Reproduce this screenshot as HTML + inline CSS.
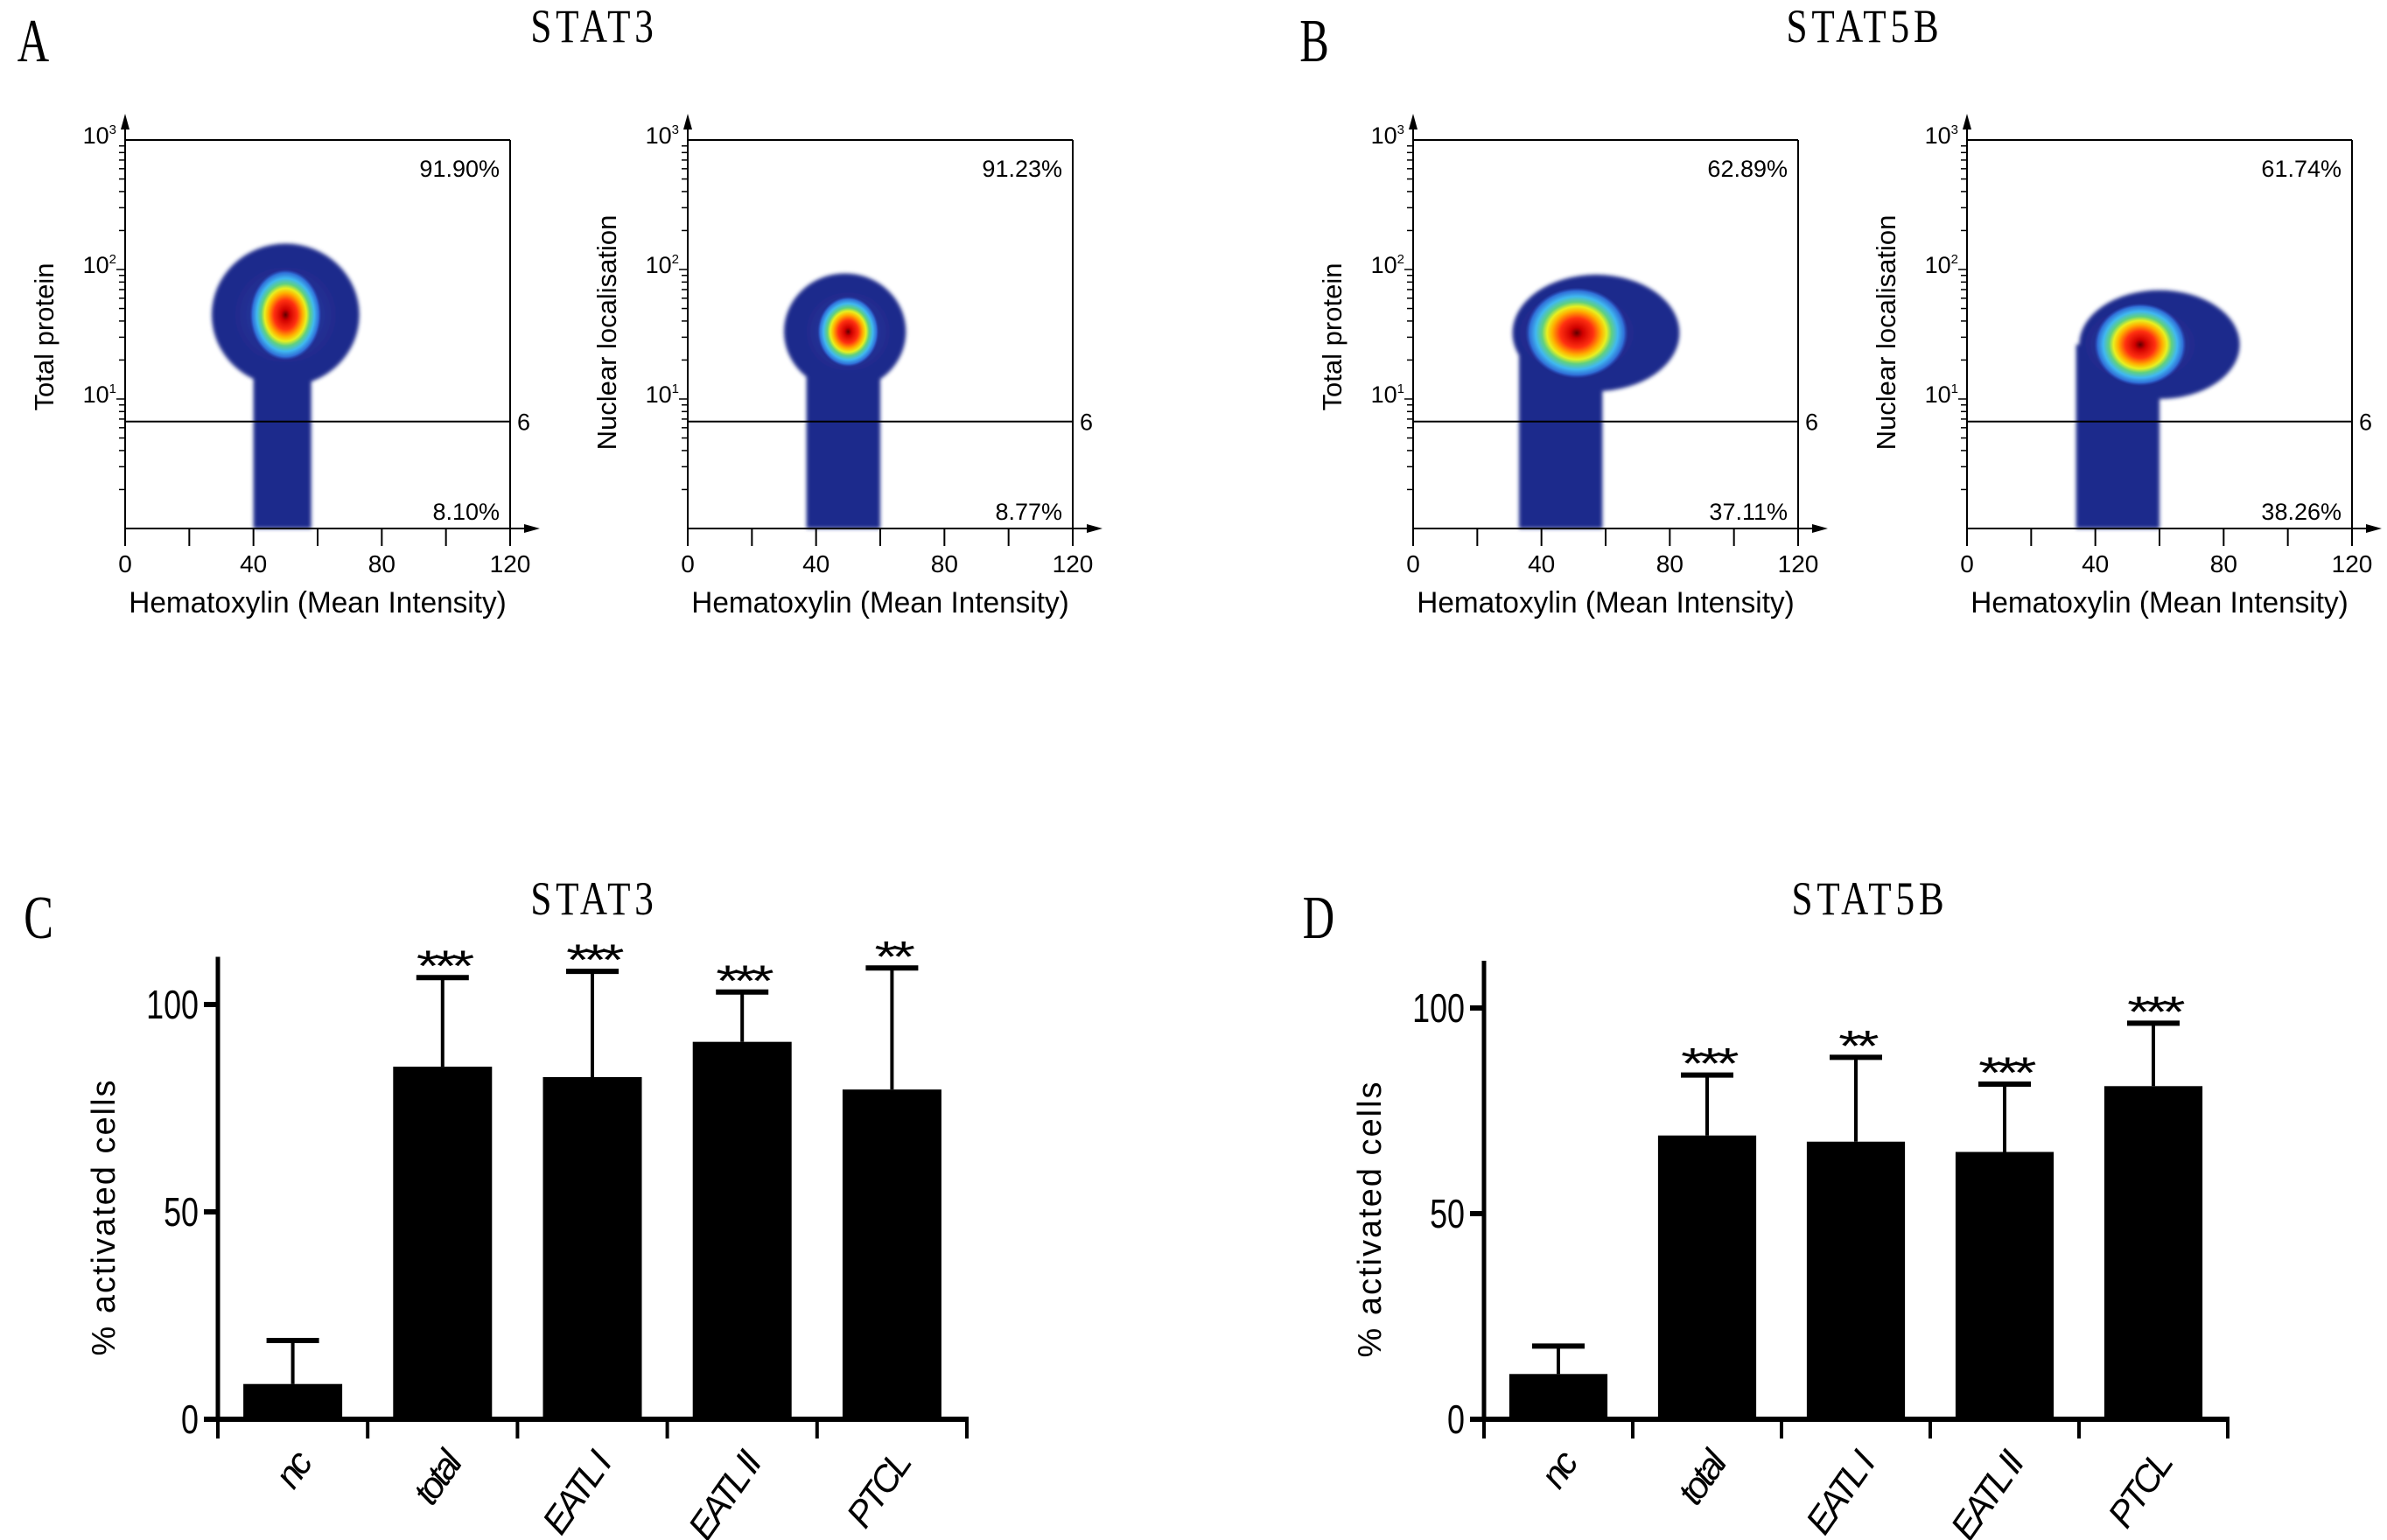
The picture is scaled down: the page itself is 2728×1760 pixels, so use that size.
<!DOCTYPE html>
<html><head><meta charset="utf-8"><style>
html,body{margin:0;padding:0;background:#fff;}
svg{display:block;}
text{font-family:"Liberation Sans",sans-serif;fill:#000;}
.ser{font-family:"Liberation Serif",serif;}
</style></head><body>
<svg id="fig" xmlns="http://www.w3.org/2000/svg" width="2728" height="1760" viewBox="0 0 2728 1760">
<defs>
<radialGradient id="heat" cx="50%" cy="50%" r="50%">
<stop offset="0" stop-color="#600000"/>
<stop offset="0.12" stop-color="#d00000"/>
<stop offset="0.32" stop-color="#ff3010"/>
<stop offset="0.48" stop-color="#ffb000"/>
<stop offset="0.58" stop-color="#e8f020"/>
<stop offset="0.68" stop-color="#60d080"/>
<stop offset="0.8" stop-color="#40b8f0"/>
<stop offset="0.92" stop-color="#3070d8"/>
<stop offset="1" stop-color="#2848b8" stop-opacity="0"/>
</radialGradient>
<radialGradient id="glow" cx="50%" cy="50%" r="50%">
<stop offset="0" stop-color="#3a5ad0"/>
<stop offset="1" stop-color="#1e2a8a" stop-opacity="0"/>
</radialGradient>
<filter id="soft"><feGaussianBlur stdDeviation="2"/></filter>
</defs>
</svg>
<script>
// ---------- scatter data ----------
const scatterTitles = ["Total protein","Nuclear localisation","Total protein","Nuclear localisation"];
const upperPct = ["91.90%","91.23%","62.89%","61.74%"];
const lowerPct = ["8.10%","8.77%","37.11%","38.26%"];
const xTicks = [0,40,80,120];
const threshold = 6.7;           // plotted gate position
const threshLabel = "6";
const coreX = [50,50,51,54];
const coreLog = [1.65,1.52,1.51,1.42];
const blobRX = [23,19,26,25];
const blobRY = [0.55,0.45,0.45,0.42];
const blobShiftX = [0,-1,6,6];
const stemL = [40,37,33,34];
const stemR = [58,60,59,60];
const heatRX = [7,6,10,9];
const heatRY = [0.22,0.17,0.22,0.2];
// ---------- bar data ----------
const categories = ["nc","total","EATL I","EATL II","PTCL"];
const stat3Means = [8.5,85,82.5,91,79.5];
const stat3Err = [19,106.5,108,103,108.8];
const stat3Stars = ["","***","***","***","**"];
const stat5Means = [11,69,67.5,65,81];
const stat5Err = [17.8,83.7,88,81.5,96.3];
const stat5Stars = ["","***","**","***","***"];
const yTicksBar = [0,50,100];

const svg = document.getElementById('fig');
const NS = "http://www.w3.org/2000/svg";
function mk(tag, attrs, parent, txt){
  const e = document.createElementNS(NS, tag);
  for (const k in attrs) e.setAttribute(k, attrs[k]);
  if (txt !== undefined) e.textContent = txt;
  (parent||svg).appendChild(e);
  return e;
}

const heads = [["A",38,70,"STAT3",679,48],["B",1502,70,"STAT5B",2131,48],["C",44,1072,"STAT3",679,1045],["D",1507,1072,"STAT5B",2137,1045]];
heads.forEach(h=>{
  let t = mk('text',{x:0,y:0,'font-size':70,'class':'ser','text-anchor':'middle',transform:`translate(${h[1]},${h[2]}) scale(0.72,1)`},svg,h[0]);
  
  
  let s = mk('text',{x:0,y:0,'font-size':54,'class':'ser','text-anchor':'middle','letter-spacing':6,transform:`translate(${h[4]},${h[5]}) scale(0.8,1)`},svg,h[3]);
  
  
});

// ---------- scatter plots ----------
const frames = [143,786,1615,2248];
const FW = 440, TOP = 160, BOT = 604, LOGMIN = 0, LOGMAX = 3;
function sx(i,v){ return frames[i] + v/120*FW; }
function sy(lg){ return BOT - (lg-LOGMIN)/(LOGMAX-LOGMIN)*(BOT-TOP); }

frames.forEach((fx,i)=>{
  const g = mk('g',{});
  
  
  const d = mk('g',{filter:'url(#soft)'},g);
  
  
  const cx = sx(i,coreX[i]+blobShiftX[i]), cy = sy(coreLog[i]);
  const rx = blobRX[i]/120*FW, ry = blobRY[i]/(LOGMAX-LOGMIN)*(BOT-TOP);
  mk('rect',{x:sx(i,stemL[i]),y:cy,width:sx(i,stemR[i])-sx(i,stemL[i]),height:BOT-cy,fill:'#1f2a8c'},d);
  mk('ellipse',{cx:cx,cy:cy,rx:rx,ry:ry,fill:'#1f2a8c'},d);
  mk('ellipse',{cx:sx(i,coreX[i]),cy:cy,rx:rx*0.8,ry:ry*0.8,fill:'url(#glow)'},d);
  const hc = mk('ellipse',{cx:sx(i,coreX[i]),cy:cy,rx:heatRX[i]/120*FW*1.6,ry:heatRY[i]/(LOGMAX-LOGMIN)*(BOT-TOP)*1.6,fill:'url(#heat)'},g);
  
  
  mk('line',{x1:fx,y1:TOP,x2:fx+FW,y2:TOP,stroke:'#000','stroke-width':2},g);
  mk('line',{x1:fx+FW,y1:TOP,x2:fx+FW,y2:BOT,stroke:'#000','stroke-width':2},g);
  mk('line',{x1:fx,y1:TOP-20,x2:fx,y2:BOT,stroke:'#000','stroke-width':2},g);
  mk('line',{x1:fx,y1:BOT,x2:fx+FW+20,y2:BOT,stroke:'#000','stroke-width':2},g);
  mk('polygon',{points:`${fx+FW+34},${BOT} ${fx+FW+16},${BOT-5} ${fx+FW+16},${BOT+5}`,fill:'#000'},g);
  mk('polygon',{points:`${fx},${TOP-30} ${fx-5},${TOP-12} ${fx+5},${TOP-12}`,fill:'#000'},g);
  const ty = sy(Math.log10(threshold));
  const tl = mk('line',{x1:fx,y1:ty,x2:fx+FW,y2:ty,stroke:'#000','stroke-width':2},g);
  
  
  mk('text',{x:fx+FW+8,y:ty+10,'font-size':27},g,threshLabel);
  for(let v=0; v<=120; v+=20){ mk('line',{x1:sx(i,v),y1:BOT,x2:sx(i,v),y2:BOT+20,stroke:'#000','stroke-width':2},g); }
  xTicks.forEach(v=>{ mk('text',{x:sx(i,v),y:654,'font-size':28,'text-anchor':'middle'},g,String(v)); });
  for(let dec=0; dec<3; dec++){
    for(let m=1; m<10; m++){
      const lg = dec+Math.log10(m);
      if (lg<0.15) continue;
      mk('line',{x1:fx-(m===1?10:7),y1:sy(lg),x2:fx,y2:sy(lg),stroke:'#000','stroke-width':1.5},g);
    }
  }
  [1,2,3].forEach(p=>{
    const t = mk('text',{x:fx-10,y:sy(p)+4,'font-size':27,'text-anchor':'end'},g,'10');
    mk('tspan',{'font-size':15,dy:-11},t,String(p));
  });
  mk('text',{x:fx+FW-12,y:202,'font-size':27,'text-anchor':'end'},g,upperPct[i]);
  mk('text',{x:fx+FW-12,y:594,'font-size':27,'text-anchor':'end'},g,lowerPct[i]);
  const xl = mk('text',{x:0,y:0,'font-size':34,'text-anchor':'middle',transform:`translate(${fx+220},${700}) scale(0.98,1)`},g,'Hematoxylin (Mean Intensity)');
  
  
  const ycx = fx-82, ycy = i%2===0 ? 385 : 380;
  const yl = mk('text',{x:0,y:0,'font-size':31,'text-anchor':'middle',transform:`translate(${ycx},${ycy}) rotate(-90)`},g,scatterTitles[i]);
  
  
});

// ---------- bar charts ----------
function barChart(ax, axEnd, zeroY, hundredY, means, errs, stars, tag){
  const g = mk('g',{});
  
  
  const yS = v => zeroY - v/100*(zeroY-hundredY);
  const band = (axEnd-ax)/categories.length;
  const bw = band*0.66;
  mk('line',{x1:ax,y1:yS(0),x2:ax,y2:zeroY-(zeroY-hundredY)*1.115,stroke:'#000','stroke-width':5},g);
  mk('line',{x1:ax-16,y1:zeroY,x2:axEnd+2,y2:zeroY,stroke:'#000','stroke-width':6},g);
  for(let k=0;k<=categories.length;k++){ mk('line',{x1:ax+k*band,y1:zeroY,x2:ax+k*band,y2:zeroY+22,stroke:'#000','stroke-width':4},g); }
  yTicksBar.forEach(v=>{
    mk('line',{x1:ax-16,y1:yS(v),x2:ax,y2:yS(v),stroke:'#000','stroke-width':6},g);
    mk('text',{x:0,y:0,'font-size':46,'text-anchor':'end',transform:`translate(${ax-22},${yS(v)+16}) scale(0.78,1)`},g,String(v));
  });
  const yl = mk('text',{x:0,y:0,'font-size':38,'text-anchor':'middle','letter-spacing':2,transform:`translate(${ax-118},${(zeroY+hundredY)/2+6}) rotate(-90)`},g,'% activated cells');
  
  
  categories.forEach((c,k)=>{
    const cx = ax + band*(k+0.5);
    const b = mk('rect',{x:cx-bw/2,y:yS(means[k]),width:bw,height:zeroY-yS(means[k]),fill:'#000'},g);
    
    
    const e = mk('line',{x1:cx,y1:yS(means[k]),x2:cx,y2:yS(errs[k]),stroke:'#000','stroke-width':4},g);
    
    
    mk('line',{x1:cx-30,y1:yS(errs[k]),x2:cx+30,y2:yS(errs[k]),stroke:'#000','stroke-width':6},g);
    if(stars[k]){
      const s = mk('text',{x:0,y:0,'font-size':62,'text-anchor':'middle','letter-spacing':-6,transform:`translate(${cx},${yS(errs[k])+4}) scale(1.1,0.8)`},g,stars[k]);
      
      
    }
    const lb = mk('text',{x:0,y:0,'font-size':42,'text-anchor':'end','font-style':'italic','letter-spacing':-4,transform:`translate(${cx+22},${zeroY+52}) rotate(-55)`},g,c);
    
    
  });
}
barChart(249,1105,1622,1148,stat3Means,stat3Err,stat3Stars,'stat3');
barChart(1696,2546,1622,1152,stat5Means,stat5Err,stat5Stars,'stat5b');
</script>
</body></html>
